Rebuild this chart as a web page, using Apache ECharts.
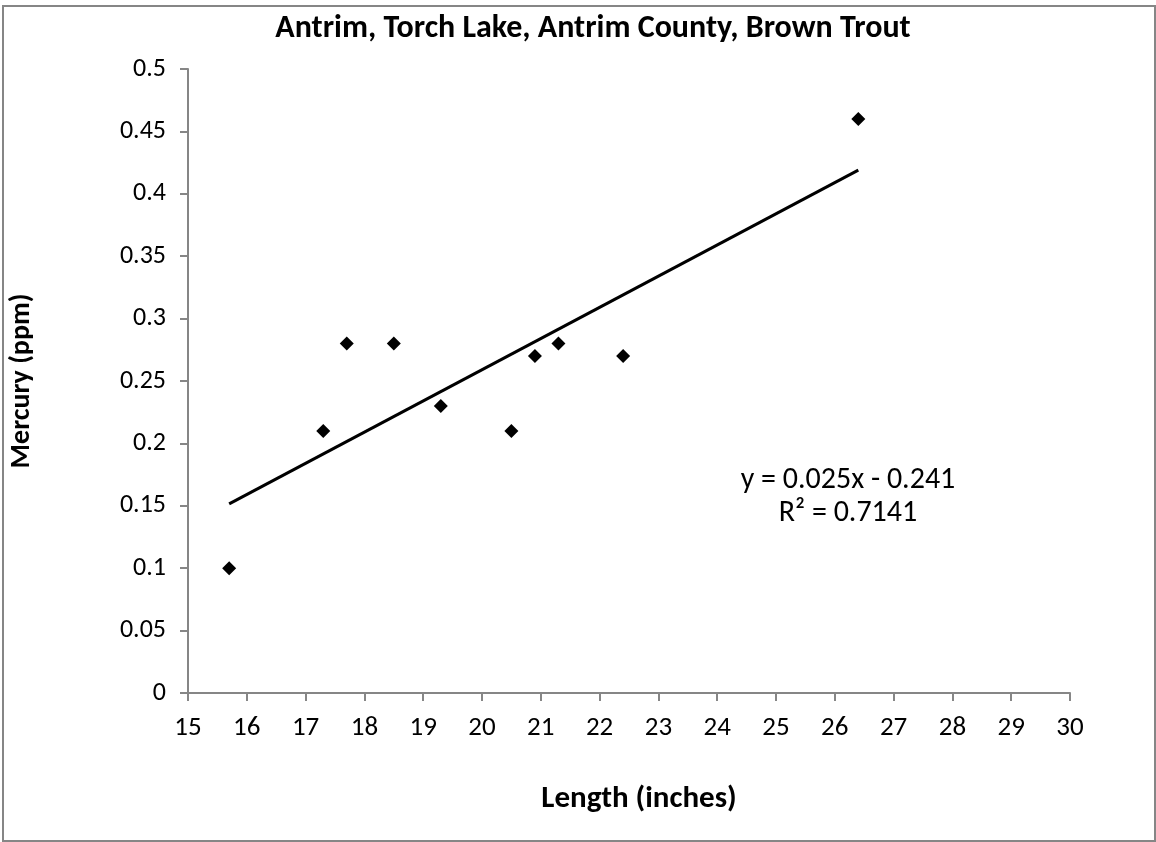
<!DOCTYPE html>
<html><head><meta charset="utf-8">
<script src="https://cdn.jsdelivr.net/npm/echarts@6/dist/echarts.min.js"></script>
<style>html,body{margin:0;padding:0;background:#fff}#c{width:1156px;height:842px}</style>
</head><body><div id="c"></div>
<script>
const lengths = [15.7, 17.3, 17.7, 18.5, 19.3, 20.5, 20.9, 21.3, 22.4, 26.4];
const mercury = [0.10, 0.21, 0.28, 0.28, 0.23, 0.21, 0.27, 0.28, 0.27, 0.46];
const slope = 0.025, intercept = -0.241;
const trendX = [15.7, 26.4];
const titleText = 'Antrim, Torch Lake, Antrim County, Brown Trout';
const eqText = 'y = 0.025x - 0.241\nR² = 0.7141';

const pts = lengths.map((x, i) => [x, mercury[i]]);
const trend = trendX.map(x => [x, slope * x + intercept]);
const FONT = 'Carlito, "Open Sans", "Liberation Sans", sans-serif';

const chart = echarts.init(document.getElementById('c'), null, {renderer: 'canvas'});
chart.setOption({
  animation: false,
  backgroundColor: '#fff',
  textStyle: {fontFamily: FONT},
  title: {
    text: titleText, left: 588, top: 8, textAlign: 'center',
    textStyle: {fontSize: 32, fontWeight: 'bold', color: '#000', fontFamily: FONT}
  },
  grid: {left: 188, right: 86, top: 69, bottom: 149},
  xAxis: {
    type: 'value', min: 15, max: 30, interval: 1,
    name: 'Length (inches)', nameLocation: 'middle', nameGap: 91,
    nameTextStyle: {fontSize: 31, fontWeight: 'bold', color: '#000', fontFamily: FONT,
      padding: [0, 0, 0, 20]},
    axisLine: {onZero: false, lineStyle: {color: '#868686', width: 2}},
    axisTick: {show: true, length: 8, lineStyle: {color: '#868686', width: 2}},
    axisLabel: {fontSize: 27, color: '#000', margin: 22, fontFamily: FONT},
    splitLine: {show: false}
  },
  yAxis: {
    type: 'value', min: 0, max: 0.5, interval: 0.05,
    name: 'Mercury (ppm)', nameLocation: 'middle', nameGap: 152, nameRotate: 90,
    nameTextStyle: {fontSize: 28, fontWeight: 'bold', color: '#000', fontFamily: FONT},
    axisLine: {show: true, lineStyle: {color: '#868686', width: 2}},
    axisTick: {show: true, length: 8, lineStyle: {color: '#868686', width: 2}},
    axisLabel: {fontSize: 26, color: '#000', margin: 22, fontFamily: FONT,
      formatter: v => String(parseFloat(v.toFixed(2)))},
    splitLine: {show: false}
  },
  series: [
    {
      type: 'line', data: trend, symbol: 'none', silent: true,
      lineStyle: {color: '#000', width: 3}, z: 2
    },
    {
      type: 'scatter', data: pts, symbol: 'diamond', symbolSize: 14,
      itemStyle: {color: '#000', opacity: 1}, z: 3
    }
  ],
  graphic: [
    {type: 'rect', shape: {x: 3, y: 6, width: 1152, height: 835}, silent: true,
     style: {fill: 'none', stroke: '#868686', lineWidth: 2}, z: -1},
    {type: 'text', x: 848, y: 464, silent: true,
     style: {text: eqText, fontSize: 30, lineHeight: 33, fill: '#000', align: 'center',
       fontFamily: FONT}}
  ]
});
</script></body></html>
